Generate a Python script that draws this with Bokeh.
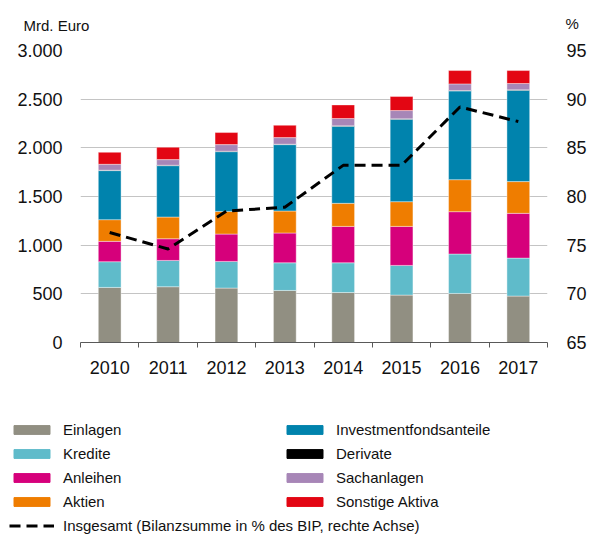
from bokeh.plotting import figure
from bokeh.models import (ColumnDataSource, Range1d, LinearAxis, FixedTicker,
                          CustomJSTickFormatter, Legend, LegendItem, Label)
from bokeh.embed import file_html
from bokeh.resources import INLINE

# ---- data ----
years = ["2010", "2011", "2012", "2013", "2014", "2015", "2016", "2017"]
einlagen = [566, 573, 559, 535, 514, 487, 504, 477]
kredite = [264, 270, 274, 284, 305, 305, 405, 390]
anleihen = [209, 223, 281, 306, 374, 401, 435, 460]
aktien = [223, 223, 233, 226, 237, 254, 329, 326]
investmentfonds = [504, 528, 614, 682, 792, 847, 912, 939]
derivate = [4, 4, 4, 4, 4, 4, 4, 4]
sachanlagen = [61, 58, 68, 68, 75, 85, 68, 65]
sonstige = [123, 127, 124, 127, 140, 144, 137, 133]
insgesamt_pct = [76.3, 74.6, 78.5, 78.9, 83.2, 83.2, 89.2, 87.7]

left_ticks = [0, 500, 1000, 1500, 2000, 2500, 3000]
left_tick_labels = ["0", "500", "1.000", "1.500", "2.000", "2.500", "3.000"]
right_ticks = [65, 70, 75, 80, 85, 90, 95]

series_names = ["Einlagen", "Kredite", "Anleihen", "Aktien", "Investmentfondsanteile",
                "Derivate", "Sachanlagen", "Sonstige Aktiva"]
line_name = "Insgesamt (Bilanzsumme in % des BIP, rechte Achse)"
left_unit = "Mrd. Euro"
right_unit = "%"
colors = ["#918f82", "#5fbbca", "#d6007b", "#ef7d00", "#0083ad", "#000000", "#a786b7", "#e30613"]

FONT = "Liberation Sans"
TXT = "#111111"
W = 589

keys = ["einlagen", "kredite", "anleihen", "aktien", "investmentfonds", "derivate",
        "sachanlagen", "sonstige"]
data = dict(x=[i + 0.5 for i in range(len(years))], pct=insgesamt_pct,
            einlagen=einlagen, kredite=kredite, anleihen=anleihen, aktien=aktien,
            investmentfonds=investmentfonds, derivate=derivate,
            sachanlagen=sachanlagen, sonstige=sonstige)
source = ColumnDataSource(data)


def blank(h):
    f = figure(width=W, height=h, output_backend="svg", toolbar_location=None,
               x_range=Range1d(0, 1), y_range=Range1d(0, 1),
               x_axis_type=None, y_axis_type=None,
               min_border_left=0, min_border_right=0, min_border_top=0, min_border_bottom=0)
    f.outline_line_color = None
    f.grid.visible = False
    return f


# ---- header (unit labels) ----
head = blank(38)
head.add_layout(Label(x=23, y=13, x_units="screen", y_units="screen", text=left_unit,
                      text_font=FONT, text_font_size="15px", text_color=TXT,
                      text_baseline="alphabetic"))
head.add_layout(Label(x=565, y=15, x_units="screen", y_units="screen", text=right_unit,
                      text_font=FONT, text_font_size="15px", text_color=TXT,
                      text_baseline="alphabetic"))

# ---- main chart ----
p = figure(width=W, height=362, output_backend="svg", toolbar_location=None,
           x_range=Range1d(0, len(years)), y_range=Range1d(0, 3000),
           min_border_left=80, min_border_right=41, min_border_top=12, min_border_bottom=58)
p.outline_line_color = None
p.extra_y_ranges = {"pct": Range1d(65, 95)}

bars = p.vbar_stack(keys, x="x", width=0.39, color=colors, line_color="white",
                    line_width=0.4, source=source)
line = p.line("x", "pct", source=source, y_range_name="pct", line_color="black",
              line_width=3, line_dash="11 6")

xa = p.xaxis[0]
xa.ticker = FixedTicker(ticks=[i + 0.5 for i in range(len(years))],
                        minor_ticks=list(range(len(years) + 1)))
xa.formatter = CustomJSTickFormatter(args=dict(labels=years),
                                     code="return labels[Math.floor(tick)]")
xa.major_tick_line_color = None
xa.major_tick_in = 0
xa.major_tick_out = 0
xa.minor_tick_in = 0
xa.minor_tick_out = 5
xa.minor_tick_line_color = "#595959"
xa.axis_line_color = "#595959"
xa.major_label_text_font = FONT
xa.major_label_text_font_size = "18px"
xa.major_label_text_color = TXT
xa.major_label_standoff = 13

ya = p.yaxis[0]
ya.ticker = FixedTicker(ticks=left_ticks)
ya.major_label_overrides = dict(zip(left_ticks, left_tick_labels))
ya.axis_line_color = None
ya.major_tick_line_color = None
ya.minor_tick_line_color = None
ya.major_tick_in = 0
ya.major_tick_out = 0
ya.major_label_standoff = 18
ya.major_label_text_font = FONT
ya.major_label_text_font_size = "18px"
ya.major_label_text_color = TXT

ra = LinearAxis(y_range_name="pct", ticker=FixedTicker(ticks=right_ticks))
ra.axis_line_color = None
ra.major_tick_line_color = None
ra.minor_tick_line_color = None
ra.major_tick_in = 0
ra.major_tick_out = 0
ra.major_label_standoff = 19
ra.major_label_text_font = FONT
ra.major_label_text_font_size = "18px"
ra.major_label_text_color = TXT
p.add_layout(ra, "right")

p.xgrid.visible = False
p.ygrid.ticker = FixedTicker(ticks=left_ticks)
p.ygrid.grid_line_color = "#c4c4c4"
p.ygrid.grid_line_width = 1

# ---- legend panel (hidden renderers only supply the legend swatches) ----
leg = blank(134)
swatches = [leg.vbar(x="x", top=k, width=0.39, color=c, source=source, visible=False)
            for k, c in zip(keys, colors)]
line_sw = leg.line("x", "pct", source=source, line_color="black", line_width=3,
                   line_dash="11 6", visible=False)

common = dict(glyph_width=45, glyph_height=11, label_height=21, label_standoff=9,
              spacing=3, padding=0, margin=0, border_line_color=None,
              background_fill_alpha=0, inactive_fill_alpha=0, label_text_font=FONT,
              label_text_font_size="15px", label_text_color=TXT)

items_a = [LegendItem(label=series_names[i], renderers=[swatches[i]]) for i in range(4)]
items_a.append(LegendItem(label=line_name, renderers=[line_sw]))
items_b = [LegendItem(label=series_names[i], renderers=[swatches[i]]) for i in range(4, 8)]
# location = bottom-left corner of each legend box, measured from the panel's bottom-left
leg.add_layout(Legend(items=items_a, location=(9, -2), orientation="vertical", **common), "center")
leg.add_layout(Legend(items=items_b, location=(282, 22), orientation="vertical", **common), "center")

open("out.html", "w").write(file_html([head, p, leg], INLINE))
